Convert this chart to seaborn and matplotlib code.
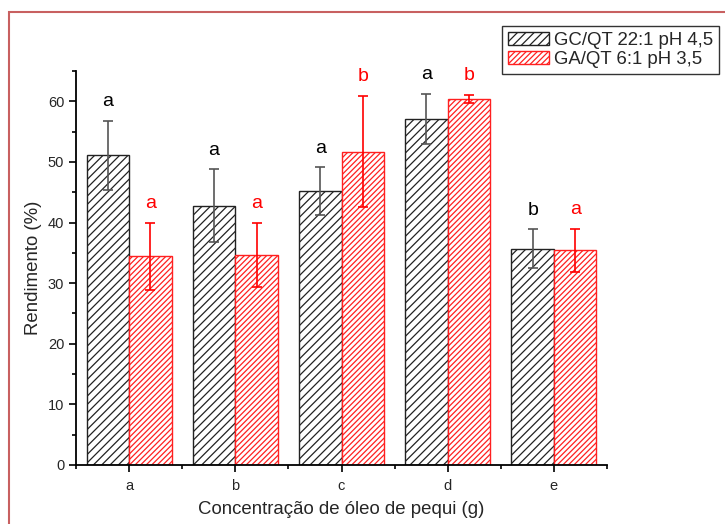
import pandas as pd
import matplotlib
matplotlib.use("Agg")
import matplotlib.pyplot as plt
import seaborn as sns
from matplotlib.patches import Rectangle
from matplotlib.ticker import MultipleLocator

# Data
concentracoes = ["a", "b", "c", "d", "e"]
grupos = ["GC/QT 22:1 pH 4,5", "GA/QT 6:1 pH 3,5"]
gc_media = [51.1, 42.8, 45.2, 57.1, 35.7]
gc_erro = [5.7, 6.0, 3.9, 4.1, 3.2]
ga_media = [34.4, 34.7, 51.7, 60.4, 35.4]
ga_erro = [5.6, 5.3, 9.2, 0.7, 3.6]
gc_letras = ["a", "a", "a", "a", "b"]
ga_letras = ["a", "a", "b", "b", "a"]

df = pd.DataFrame({
    "conc": concentracoes * 2,
    "rend": gc_media + ga_media,
    "grupo": [grupos[0]] * 5 + [grupos[1]] * 5,
})

sns.set_style("ticks")
plt.rcParams["font.family"] = ["Liberation Sans", "DejaVu Sans"]
plt.rcParams["hatch.linewidth"] = 0.9

fig = plt.figure(figsize=(7.25, 5.24), dpi=100)
ax = fig.add_axes([76 / 725, 59 / 524, 531 / 725, 394 / 524])

sns.barplot(data=df, x="conc", y="rend", hue="grupo", hue_order=grupos,
            order=concentracoes, errorbar=None, width=0.8, ax=ax, legend=False)

estilos = [
    dict(edge="#222222", hatch="////", err="#555555", txt="black"),
    dict(edge="#ff2020", hatch="//////", err="#ff0000", txt="#ff0000"),
]
medias = [gc_media, ga_media]
erros = [gc_erro, ga_erro]
letras = [gc_letras, ga_letras]

for cont, st, med, err, let in zip(ax.containers, estilos, medias, erros, letras):
    xs = []
    for bar in cont:
        bar.set_facecolor("white")
        bar.set_edgecolor(st["edge"])
        bar.set_hatch(st["hatch"])
        bar.set_linewidth(1.0)
        xs.append(bar.get_x() + bar.get_width() / 2)
    ax.errorbar(xs, med, yerr=err, fmt="none", ecolor=st["err"],
                elinewidth=1.2, capsize=3.5, capthick=1.2, zorder=3)
    for x, m, e, l in zip(xs, med, err, let):
        ax.text(x, m + e + 2.4, l, ha="center", va="baseline",
                fontsize=14, color=st["txt"])

ax.set_xlim(-0.5, 4.5)
ax.set_ylim(0, 65)
ax.yaxis.set_major_locator(MultipleLocator(10))
ax.yaxis.set_minor_locator(MultipleLocator(5))
ax.set_xticks(range(5))
ax.set_xticklabels(concentracoes)
ax.set_xticks([-0.5, 0.5, 1.5, 2.5, 3.5, 4.5], minor=True)
ax.tick_params(axis="both", which="major", direction="out", length=5,
               width=1.2, labelsize=10.5, color="black")
ax.tick_params(axis="both", which="minor", direction="out", length=3,
               width=1.2, color="black")
ax.tick_params(axis="x", pad=5)
for s in ["left", "bottom"]:
    ax.spines[s].set_linewidth(1.3)
    ax.spines[s].set_color("black")
sns.despine(ax=ax)

ax.set_xlabel("Concentração de óleo de pequi (g)", fontsize=13.4, labelpad=6)
ax.set_ylabel("Rendimento (%)", fontsize=13.4, labelpad=4)

handles = [ax.containers[0][0], ax.containers[1][0]]
leg = fig.legend(handles, grupos, loc="upper left",
                 bbox_to_anchor=(502 / 725, 1 - 26 / 524), fontsize=13.4,
                 frameon=True, fancybox=False, borderpad=0.3,
                 labelspacing=0.15, handletextpad=0.3, handlelength=2.2,
                 borderaxespad=0)
leg.get_frame().set_edgecolor("black")
leg.get_frame().set_linewidth(1.0)

# reddish frame around the figure
fig.add_artist(Rectangle((9 / 725, -0.1), 1.2, 1.1 - 12 / 524,
                         transform=fig.transFigure, fill=False,
                         edgecolor="#c86060", linewidth=1.5))

fig.savefig("out.png", dpi=100)
